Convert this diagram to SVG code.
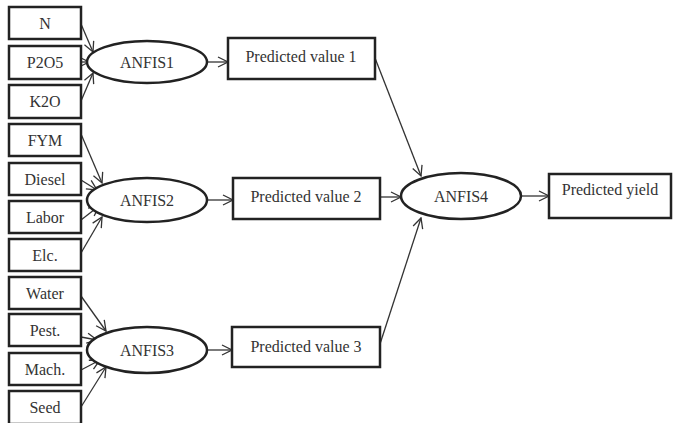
<svg xmlns="http://www.w3.org/2000/svg" width="673" height="423" viewBox="0 0 673 423">
<style>
.box{fill:#fff;stroke:#222;stroke-width:2.5}
.ell{fill:#fff;stroke:#222;stroke-width:2.5}
.t{font-family:"Liberation Serif","Times New Roman",serif;font-size:16px;fill:#333;text-anchor:middle}
.c{stroke:#333;stroke-width:1.3;fill:none;marker-end:url(#ah)}
</style>
<defs>
<marker id="ah" viewBox="0 0 12 12" refX="11" refY="6" markerWidth="12" markerHeight="12" markerUnits="userSpaceOnUse" orient="auto">
<path d="M1,1 L11,6 L1,11" fill="none" stroke="#333" stroke-width="1.3"/>
</marker>
</defs>
<rect width="673" height="423" fill="#fff"/>
<g id="connectors">
<line class="c" x1="81" y1="24" x2="93" y2="52"/>
<line class="c" x1="81" y1="62" x2="89" y2="62"/>
<line class="c" x1="81" y1="101" x2="93" y2="73"/>
<line class="c" x1="81" y1="134" x2="102" y2="183"/>
<line class="c" x1="81" y1="180" x2="97" y2="190"/>
<line class="c" x1="81" y1="220" x2="99" y2="206"/>
<line class="c" x1="81" y1="253" x2="102" y2="217"/>
<line class="c" x1="81" y1="296" x2="106" y2="331"/>
<line class="c" x1="81" y1="337" x2="97" y2="340"/>
<line class="c" x1="81" y1="370" x2="100" y2="360"/>
<line class="c" x1="81" y1="407" x2="106" y2="367"/>
<line class="c" x1="208" y1="62" x2="228" y2="62"/>
<line class="c" x1="208" y1="200" x2="233" y2="200"/>
<line class="c" x1="208" y1="350" x2="232" y2="350"/>
<line class="c" x1="375" y1="58" x2="421" y2="176"/>
<line class="c" x1="380" y1="197" x2="401" y2="197"/>
<line class="c" x1="380" y1="344" x2="421" y2="218"/>
<line class="c" x1="521" y1="196" x2="549" y2="196"/>
</g>
<g id="n-N"><rect class="box" x="9" y="7" width="72" height="32"/><text class="t" x="45" y="29">N</text></g>
<g id="n-P2O5"><rect class="box" x="9" y="46" width="72" height="33"/><text class="t" x="45" y="68">P2O5</text></g>
<g id="n-K2O"><rect class="box" x="9" y="85" width="72" height="33"/><text class="t" x="45" y="107">K2O</text></g>
<g id="n-FYM"><rect class="box" x="9" y="124" width="72" height="32"/><text class="t" x="45" y="146">FYM</text></g>
<g id="n-Diesel"><rect class="box" x="9" y="163" width="72" height="32"/><text class="t" x="45" y="185">Diesel</text></g>
<g id="n-Labor"><rect class="box" x="9" y="201" width="72" height="32"/><text class="t" x="45" y="223">Labor</text></g>
<g id="n-Elc"><rect class="box" x="9" y="239" width="72" height="32"/><text class="t" x="45" y="261">Elc.</text></g>
<g id="n-Water"><rect class="box" x="9" y="277" width="72" height="32"/><text class="t" x="45" y="299">Water</text></g>
<g id="n-Pest"><rect class="box" x="9" y="314" width="72" height="32"/><text class="t" x="45" y="336">Pest.</text></g>
<g id="n-Mach"><rect class="box" x="9" y="353" width="72" height="32"/><text class="t" x="45" y="375">Mach.</text></g>
<g id="n-Seed"><rect class="box" x="9" y="391" width="72" height="33"/><text class="t" x="45" y="413">Seed</text></g>
<g id="n-ANFIS1"><ellipse class="ell" cx="147" cy="62" rx="60" ry="21"/><text class="t" x="147" y="68">ANFIS1</text></g>
<g id="n-ANFIS2"><ellipse class="ell" cx="147" cy="200" rx="60" ry="22"/><text class="t" x="147" y="206">ANFIS2</text></g>
<g id="n-ANFIS3"><ellipse class="ell" cx="147" cy="350" rx="60" ry="23"/><text class="t" x="147" y="356">ANFIS3</text></g>
<g id="n-ANFIS4"><ellipse class="ell" cx="461" cy="196" rx="60" ry="23"/><text class="t" x="461" y="202">ANFIS4</text></g>
<g id="n-PV1"><rect class="box" x="228" y="38" width="147" height="41"/><text class="t" x="301" y="62">Predicted value 1</text></g>
<g id="n-PV2"><rect class="box" x="233" y="178" width="147" height="41"/><text class="t" x="306" y="202">Predicted value 2</text></g>
<g id="n-PV3"><rect class="box" x="232" y="327" width="148" height="40"/><text class="t" x="306" y="352">Predicted value 3</text></g>
<g id="n-yield"><rect class="box" x="549" y="174" width="122" height="44"/><text class="t" x="610" y="195">Predicted yield</text></g>
</svg>
